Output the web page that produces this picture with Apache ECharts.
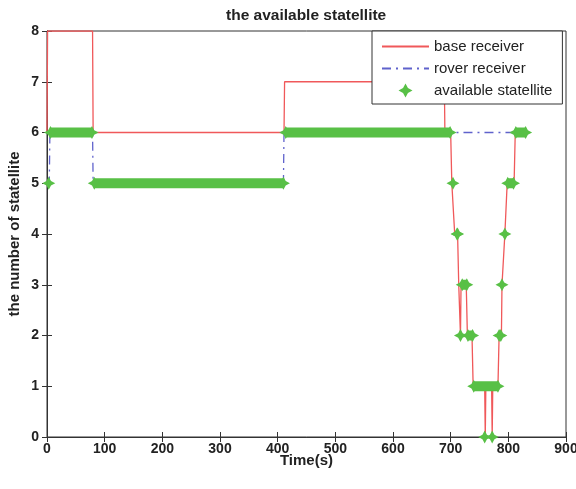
<!DOCTYPE html>
<html>
<head>
<meta charset="utf-8">
<script src="https://cdn.jsdelivr.net/npm/echarts@6/dist/echarts.min.js"></script>
<style>
html,body{margin:0;padding:0;background:#fff;}
#chart{width:576px;height:489px;}
</style>
</head>
<body>
<div id="chart"></div>
<script>
// ---- data ----
const titleText = 'the available statellite';
const xName = 'Time(s)';
const yName = 'the number of statellite';
const seriesNames = ['base receiver', 'rover receiver', 'available statellite'];

// base receiver (red solid)
const baseTime  = [0, 1, 79, 80, 411, 412, 689, 690, 700, 702, 705, 707, 712, 714, 716, 717, 718, 727, 729, 737, 739, 759, 760, 761, 771, 772, 773, 782, 784, 788, 789, 792, 794, 796, 798, 810, 812, 825];
const baseValue = [6, 8, 8,  6,  6,   7,   7,   6,   6,   5,   5,   4,   4,   3,   3,   2,   3,   3,   2,   2,   1,   1,   0,   1,   1,   0,   1,   1,   2,   2,   3,   3,   4,   4,   5,   5,   6,   6];

// rover receiver (blue dash-dot)
const roverTime  = [0, 4, 5, 79, 80, 410, 411, 832];
const roverValue = [5, 5, 6, 6,  5,  5,   6,   6];

// available statellite (green stars); null separates runs
const availTime  = [3, null, 6, 78, null, 82, 410, null, 414, 699, null, 704, null, 711, 712, null, 717, null, 720, 728, null, 730, 738, null, 740, 782, null, 759, null, 772, null, 784, 787, null, 789, null, 794, null, 799, 809, null, 813, 830];
const availValue = [5, null, 6, 6,  null, 5,  5,   null, 6,   6,   null, 5,   null, 4,   4,   null, 2,   null, 3,   3,   null, 2,   2,   null, 1,   1,   null, 0,   null, 0,   null, 2,   2,   null, 3,   null, 4,   null, 5,   5,   null, 6,   6];

const xMin = 0, xMax = 900, xStep = 100;
const yMin = 0, yMax = 8, yStep = 1;

// ---- build ----
const zip = (a, b) => a.map((t, i) => (t === null ? [null, null] : [t, b[i]]));
const star = 'path://M0,-10 L3.5,-3.5 L10,0 L3.5,3.5 L0,10 L-3.5,3.5 L-10,0 L-3.5,-3.5 Z';
const txt = '#222';
const green = '#58c046';
const red = '#f0585a';
const blue = '#5f62cc';

const chart = echarts.init(document.getElementById('chart'), null, {renderer: 'canvas'});
chart.setOption({
  animation: false,
  backgroundColor: '#fff',
  title: {
    text: titleText, left: 221, top: 3,
    textStyle: {fontFamily: 'Liberation Sans', fontSize: 15.5, fontWeight: 'bold', color: txt}
  },
  legend: {
    orient: 'vertical', left: 372, top: 31,
    padding: [8, 10, 6, 9], itemGap: 7, itemWidth: 47, itemHeight: 14,
    backgroundColor: '#fff', borderColor: '#333', borderWidth: 1,
    textStyle: {fontFamily: 'Liberation Sans', fontSize: 15, color: txt},
    data: [
      {name: seriesNames[0], itemStyle: {opacity: 0}},
      {name: seriesNames[1], itemStyle: {opacity: 0}},
      {name: seriesNames[2], icon: star, itemStyle: {color: green}}
    ],
    selectedMode: false
  },
  grid: {left: 47, top: 31, right: 10, bottom: 52, show: true, borderColor: '#333', borderWidth: 1,
         backgroundColor: 'transparent', containLabel: false, outerBoundsMode: 'none'},
  xAxis: [{
    type: 'value', min: xMin, max: xMax, interval: xStep,
    name: xName, nameLocation: 'middle', nameGap: 16, nameMoveOverlap: false,
    nameTextStyle: {fontFamily: 'Liberation Sans', fontSize: 15, fontWeight: 'bold', color: txt, verticalAlign: 'top'},
    axisLine: {show: true, lineStyle: {color: '#333'}},
    axisTick: {show: true, inside: true, length: 5, lineStyle: {color: '#333'}},
    axisLabel: {margin: 5, fontFamily: 'Liberation Sans', fontSize: 14, fontWeight: 'bold', color: txt},
    splitLine: {show: false}
  }, {
    type: 'value', min: xMin, max: xMax, interval: xStep, position: 'top',
    axisLine: {show: true, lineStyle: {color: '#333'}},
    axisTick: {show: true, inside: true, length: 5, lineStyle: {color: '#333'}},
    axisLabel: {show: false}, splitLine: {show: false}
  }],
  yAxis: [{
    type: 'value', min: yMin, max: yMax, interval: yStep,
    name: yName, nameLocation: 'middle', nameGap: 25, nameMoveOverlap: false,
    nameTextStyle: {fontFamily: 'Liberation Sans', fontSize: 15, fontWeight: 'bold', color: txt},
    axisLine: {show: true, lineStyle: {color: '#333'}},
    axisTick: {show: true, inside: true, length: 5, lineStyle: {color: '#333'}},
    axisLabel: {margin: 8, fontFamily: 'Liberation Sans', fontSize: 14, fontWeight: 'bold', color: txt},
    splitLine: {show: false}
  }, {
    type: 'value', min: yMin, max: yMax, interval: yStep, position: 'right',
    axisLine: {show: true, lineStyle: {color: '#333'}},
    axisTick: {show: true, inside: true, length: 5, lineStyle: {color: '#333'}},
    axisLabel: {show: false}, splitLine: {show: false}
  }],
  series: [{
    name: seriesNames[0], type: 'line', data: zip(baseTime, baseValue),
    symbol: 'none', color: red,
    lineStyle: {color: red, width: 1.3}, silent: true, z: 2
  }, {
    name: seriesNames[1], type: 'line', data: zip(roverTime, roverValue),
    symbol: 'none', color: blue,
    lineStyle: {color: blue, width: 1.3, type: [9, 5, 2, 5]}, silent: true, z: 1
  }, {
    name: seriesNames[2], type: 'line', data: zip(availTime, availValue),
    connectNulls: false, symbol: star, symbolSize: 13, showSymbol: true, showAllSymbol: true,
    color: green, itemStyle: {color: green},
    lineStyle: {color: green, width: 10, cap: 'butt'}, silent: true, z: 3
  }]
});
</script>
</body>
</html>
